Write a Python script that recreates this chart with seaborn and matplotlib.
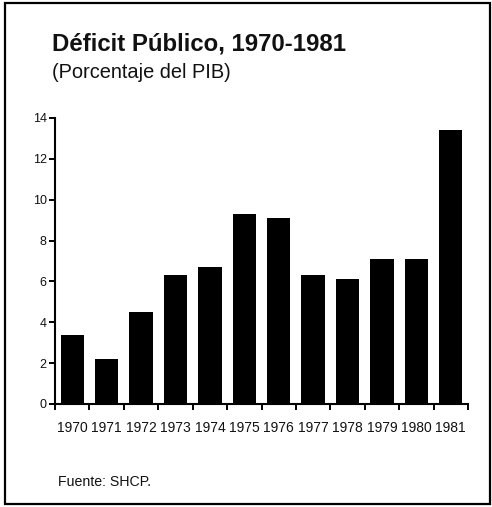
import matplotlib
matplotlib.use("Agg")
import matplotlib.pyplot as plt
from matplotlib.patches import Rectangle
from matplotlib.ticker import FixedLocator
import seaborn as sns
import pandas as pd

# Déficit público como porcentaje del PIB, 1970-1981
years = ["1970", "1971", "1972", "1973", "1974", "1975",
         "1976", "1977", "1978", "1979", "1980", "1981"]
deficit = [3.4, 2.2, 4.5, 6.3, 6.7, 9.3, 9.1, 6.3, 6.1, 7.1, 7.1, 13.4]
y_ticks = [0, 2, 4, 6, 8, 10, 12, 14]

title = "Déficit Público, 1970-1981"
subtitle = "(Porcentaje del PIB)"
source = "Fuente: SHCP."

sns.set_theme(style="ticks")
plt.rcParams["font.family"] = ["Liberation Sans", "DejaVu Sans"]

df = pd.DataFrame({"anio": years, "deficit": deficit})

W, H = 492, 507
fig = plt.figure(figsize=(W / 100, H / 100), dpi=100)
ax = fig.add_axes([55 / W, (H - 404) / H, 413 / W, 286 / H])

sns.barplot(data=df, x="anio", y="deficit", color="black", width=0.68,
            saturation=1, linewidth=0, ax=ax)

ax.set_xlim(-0.5, len(years) - 0.5)
ax.set_ylim(0, 14)
ax.set_yticks(y_ticks)
ax.set_yticklabels([str(t) for t in y_ticks])
ax.set_xlabel("")
ax.set_ylabel("")

# year labels centred under bars, tick marks between categories
ax.set_xticks(range(len(years)))
ax.set_xticklabels(years)
ax.xaxis.set_minor_locator(FixedLocator([i - 0.5 for i in range(len(years) + 1)]))
ax.tick_params(axis="x", which="major", length=0, pad=12, labelsize=10, colors="#111111")
ax.tick_params(axis="x", which="minor", length=4, width=1.4, color="black", direction="out")
ax.tick_params(axis="y", which="major", length=4, width=1.4, color="black",
               direction="out", pad=2, labelsize=9, labelcolor="#111111")

for side in ("top", "right"):
    ax.spines[side].set_visible(False)
for side in ("left", "bottom"):
    ax.spines[side].set_linewidth(1.5)
    ax.spines[side].set_color("black")

# headings and source note
fig.text(52 / W, 1 - 44 / H, title, fontsize=17.3, fontweight="bold",
         ha="left", va="center", color="#111111")
fig.text(52 / W, 1 - 72 / H, subtitle, fontsize=14.4,
         ha="left", va="center", color="#111111")
fig.text(58 / W, 1 - 482 / H, source, fontsize=10.2,
         ha="left", va="center", color="#111111")

# outer frame
fig.patches.append(Rectangle((5 / W, 3 / H), 485 / W, 501 / H, transform=fig.transFigure,
                             fill=False, edgecolor="black", linewidth=1.6))

fig.savefig("out.png", dpi=100)
